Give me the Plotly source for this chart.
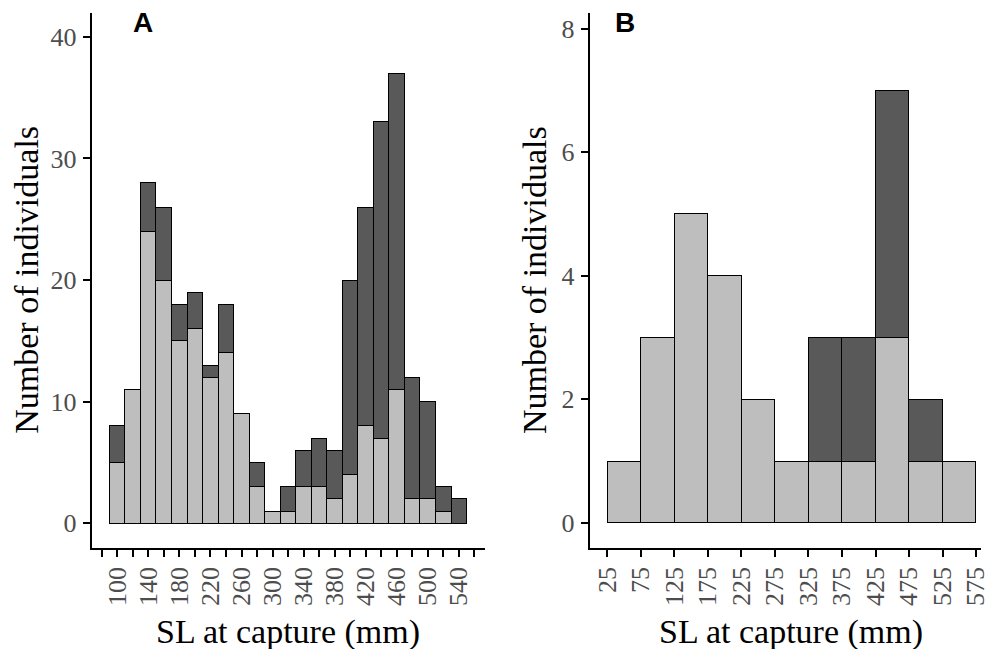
import plotly.graph_objects as go

# ---------------- data ----------------
# Panel A: SL bins (centres, mm), total count and light-grey (bottom) count
a_centers = [100, 120, 140, 160, 180, 200, 220, 240, 260, 280, 300, 320,
             340, 360, 380, 400, 420, 440, 460, 480, 500, 520, 540]
a_total = [8, 11, 28, 26, 18, 19, 13, 18, 9, 5, 1, 3,
           6, 7, 6, 20, 26, 33, 37, 12, 10, 3, 2]
a_light = [5, 11, 24, 20, 15, 16, 12, 14, 9, 3, 1, 1,
           3, 3, 2, 4, 8, 7, 11, 2, 2, 1, 0]

# Panel B
b_centers = [50, 100, 150, 200, 250, 300, 350, 400, 450, 500, 550]
b_total = [1, 3, 5, 4, 2, 1, 3, 3, 7, 2, 1]
b_light = [1, 3, 5, 4, 2, 1, 1, 1, 3, 1, 1]

a_tickvals = list(range(80, 561, 20))
a_ticktext = [str(v) if (v - 100) % 40 == 0 else "" for v in a_tickvals]
b_tickvals = list(range(25, 576, 50))
b_ticktext = [str(v) for v in b_tickvals]

# ---------------- styling ----------------
W, H = 990, 649
LIGHT = "#BEBEBE"
DARK = "#595959"
SERIF = "Liberation Serif"
TICKCOL = "#4D4D4D"


def px(x):
    return x / W


def py(y):
    return 1 - y / H


def nz(vals):
    return [v if v != 0 else None for v in vals]


a_dark = nz([t - l for t, l in zip(a_total, a_light)])
b_dark = nz([t - l for t, l in zip(b_total, b_light)])

fig = go.Figure()
bar_line = dict(color="#000000", width=1)

fig.add_trace(go.Bar(x=a_centers, y=nz(a_light), width=20, marker=dict(color=LIGHT, line=bar_line),
                     xaxis="x", yaxis="y", showlegend=False))
fig.add_trace(go.Bar(x=a_centers, y=a_dark, width=20, marker=dict(color=DARK, line=bar_line),
                     xaxis="x", yaxis="y", showlegend=False))
fig.add_trace(go.Bar(x=b_centers, y=nz(b_light), width=50, marker=dict(color=LIGHT, line=bar_line),
                     xaxis="x2", yaxis="y2", showlegend=False))
fig.add_trace(go.Bar(x=b_centers, y=b_dark, width=50, marker=dict(color=DARK, line=bar_line),
                     xaxis="x2", yaxis="y2", showlegend=False))

axis_common = dict(showline=True, linecolor="black", linewidth=2, ticks="outside",
                   ticklen=7, tickwidth=2, tickcolor="black", showgrid=False, zeroline=False,
                   tickfont=dict(family=SERIF, size=26, color=TICKCOL), fixedrange=True,
                   ticklabeloverflow="allow")

ydom = [py(547.5), py(12.5)]

fig.update_layout(
    width=W, height=H, barmode="stack", bargap=0,
    margin=dict(l=0, r=0, t=0, b=0),
    paper_bgcolor="white", plot_bgcolor="white",
    xaxis=dict(domain=[px(92.5), px(489)], range=[67, 573], anchor="y",
               tickmode="array", tickvals=a_tickvals, ticktext=a_ticktext,
               tickangle=-90, ticklabelstandoff=0, **axis_common),
    yaxis=dict(domain=ydom, range=[-2, 42], anchor="x",
               tickmode="array", tickvals=[0, 10, 20, 30, 40],
               ticklabelstandoff=1, **axis_common),
    xaxis2=dict(domain=[px(595), 1.0], range=[-1.6, 582.4], anchor="y2",
                tickmode="array", tickvals=b_tickvals, ticktext=b_ticktext,
                tickangle=-90, ticklabelstandoff=0, **axis_common),
    yaxis2=dict(domain=ydom, range=[-0.4, 8.26], anchor="x2",
                tickmode="array", tickvals=[0, 2, 4, 6, 8],
                ticklabelstandoff=1, **axis_common),
)

title_font = dict(family=SERIF, size=34, color="black")
ann = [
    dict(text="SL at capture (mm)", x=px(290.5), y=py(632), font=title_font),
    dict(text="SL at capture (mm)", x=px(798), y=py(632), font=title_font),
    dict(text="Number of individuals", x=px(27), y=py(280), font=title_font, textangle=-90),
    dict(text="Number of individuals", x=px(540), y=py(280), font=title_font, textangle=-90),
    dict(text="<b>A</b>", x=px(144), y=py(23),
         font=dict(family="Liberation Sans", size=28, color="black")),
    dict(text="<b>B</b>", x=px(631), y=py(23),
         font=dict(family="Liberation Sans", size=28, color="black")),
]
for a in ann:
    fig.add_annotation(xref="paper", yref="paper", xanchor="center", yanchor="middle",
                       showarrow=False, **a)

post = (
    "document.documentElement.style.overflow='hidden';"
    "document.body.style.margin='0px';document.body.style.overflow='hidden';"
    "var d=document.getElementById('{plot_id}');"
    "d.style.overflow='hidden';"
    "d.querySelectorAll('svg').forEach(function(s){s.style.overflow='hidden';});"
)
fig.write_html("out.html", config={"displayModeBar": False}, post_script=post)
